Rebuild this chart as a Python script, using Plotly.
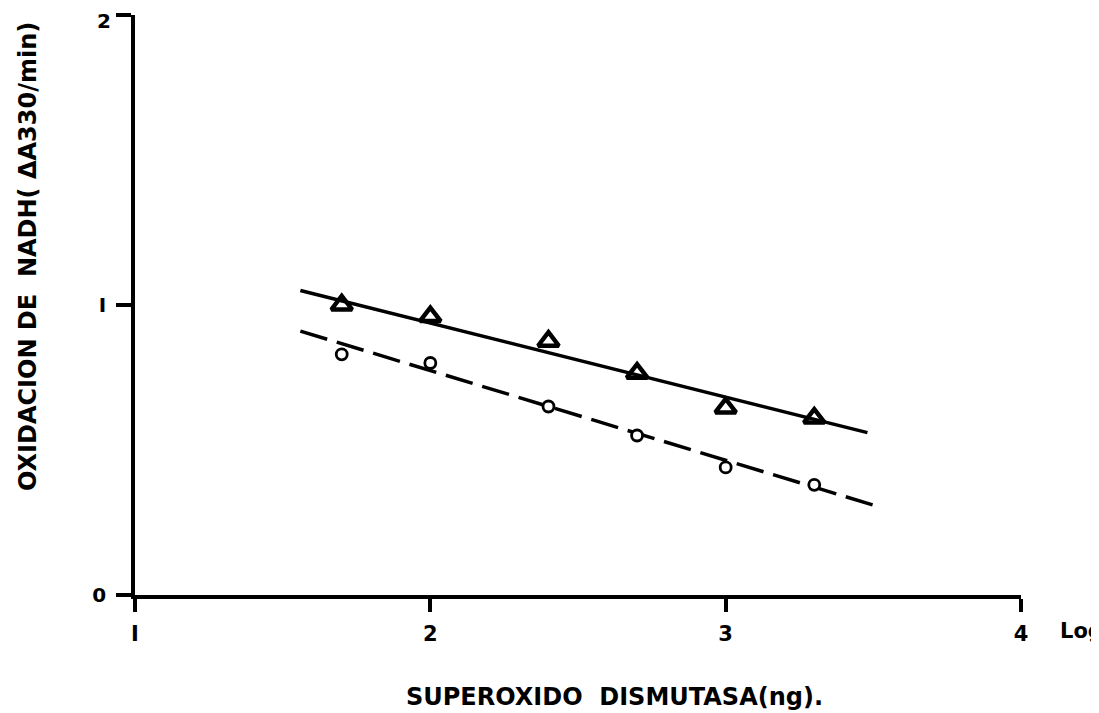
import plotly.graph_objects as go

# Data (log SOD ng vs NADH oxidation)
log_sod = [1.7, 2.0, 2.4, 2.7, 3.0, 3.3]
tri_vals = [1.00, 0.96, 0.875, 0.765, 0.645, 0.61]
circ_vals = [0.83, 0.80, 0.65, 0.55, 0.44, 0.38]

# Fitted line endpoints
solid_x = [1.56, 3.48]
solid_y = [1.05, 0.56]
dash_x = [1.56, 3.50]
dash_y = [0.91, 0.31]

x_ticks = [1, 2, 3, 4]
x_ticktext = ["<b>I</b>", "<b>2</b>", "<b>3</b>", "<b>4</b>"]
y_ticks = [0, 1, 2]
y_ticktext = ["<b>0</b>", "<b>I</b>", ""]
y_top_label = "2"

FONT = "DejaVu Sans"

fig = go.Figure()
fig.add_trace(go.Scatter(x=solid_x, y=solid_y, mode="lines",
                         line=dict(color="black", width=3.5), showlegend=False))
fig.add_trace(go.Scatter(x=dash_x, y=dash_y, mode="lines",
                         line=dict(color="black", width=3.5, dash="28px,10px"), showlegend=False))
fig.add_trace(go.Scatter(x=log_sod, y=tri_vals, mode="markers",
                         marker=dict(symbol="triangle-up-open", size=18, color="black",
                                     line=dict(color="black", width=4.5)), showlegend=False))
fig.add_trace(go.Scatter(x=log_sod, y=circ_vals, mode="markers",
                         marker=dict(symbol="circle", size=11, color="white",
                                     line=dict(color="black", width=2.8)), showlegend=False))

fig.update_layout(
    width=1099, height=713,
    margin=dict(l=127, r=86, t=7, b=126, autoexpand=False),
    paper_bgcolor="white", plot_bgcolor="white",
    font=dict(family=FONT, color="black"),
    xaxis=dict(range=[1, 4], showgrid=False, zeroline=False, showline=True, automargin=False,
               linecolor="black", linewidth=3.5, ticks="outside", ticklen=13,
               tickwidth=3.5, tickcolor="black", tickvals=x_ticks, ticktext=x_ticktext,
               tickfont=dict(family=FONT, size=21, color="black"), ticklabelstandoff=4,
               ticklabeloverflow="allow"),
    yaxis=dict(range=[0, 2], showgrid=False, zeroline=False, showline=True, automargin=False,
               linecolor="black", linewidth=3.5, ticks="outside", ticklen=15,
               tickwidth=3.5, tickcolor="black", tickvals=y_ticks, ticktext=y_ticktext,
               tickfont=dict(family=FONT, size=20, color="black"), ticklabelstandoff=6,
               ticklabeloverflow="allow"),
    annotations=[
        dict(text="<b>" + y_top_label + "</b>",
             xref="paper", yref="paper", x=(113 - 135) / 886, y=(595 - 21) / 580,
             xanchor="right", yanchor="middle", showarrow=False,
             font=dict(family=FONT, size=20, color="black")),
        dict(text="<b>OXIDACION DE  NADH( \u0394A330/min)</b>", textangle=-90,
             xref="paper", yref="paper", x=(28 - 135) / 886, y=(595 - 257) / 580,
             xanchor="center", yanchor="middle", showarrow=False,
             font=dict(family=FONT, size=24, color="black")),
        dict(text="<b>SUPEROXIDO  DISMUTASA(ng).</b>",
             xref="paper", yref="paper", x=(614 - 135) / 886, y=-(697 - 595) / 580,
             xanchor="center", yanchor="middle", showarrow=False,
             font=dict(family=FONT, size=24, color="black")),
        dict(text="<b>Log</b>",
             xref="paper", yref="paper", x=(1058 - 135) / 886, y=-(631 - 595) / 580,
             xanchor="left", yanchor="middle", showarrow=False,
             font=dict(family=FONT, size=21, color="black")),
    ],
)

fig.write_html("out.html")
